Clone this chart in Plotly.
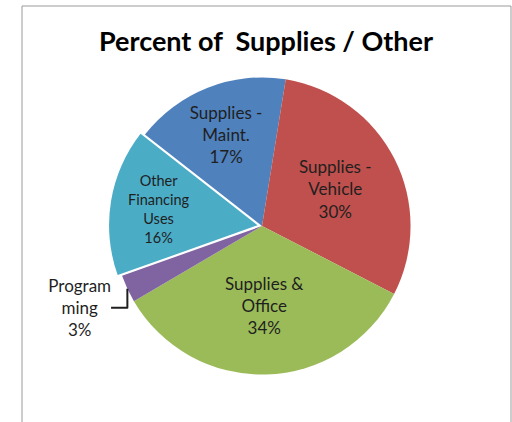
import plotly.graph_objects as go

# Categories and shares for the supplies / other breakdown
categories = ["Supplies -<br>Maint.", "Supplies -<br>Vehicle", "Supplies &<br>Office",
              "Program<br>ming", "Other<br>Financing<br>Uses"]
shares = [17, 30, 34, 3, 16]
colors = ["#4F81BD", "#C0504D", "#9BBB59", "#8064A2", "#4BACC6"]
text_positions = ["inside", "inside", "inside", "outside", "inside"]
pulls = [0, 0, 0, 0, 0.03]

W, H = 512, 422
cx, cy, r = 262, 226, 153  # pie centre and half-size of its domain box, px

fig = go.Figure(go.Pie(
    labels=categories,
    values=shares,
    sort=False,
    direction="clockwise",
    rotation=-52,
    pull=pulls,
    marker=dict(colors=colors, line=dict(width=0)),
    textposition=text_positions,
    texttemplate="%{label}<br>%{percent:.0%}",
    insidetextorientation="horizontal",
    textfont=dict(family="Lato, Carlito, sans-serif", size=17, color="#1f1f1f"),
    showlegend=False,
    domain=dict(x=[(cx - r) / W, (cx + r) / W],
                y=[(H - cy - r) / H, (H - cy + r) / H]),
))

fig.update_layout(
    width=W, height=H,
    margin=dict(l=0, r=0, t=0, b=0),
    paper_bgcolor="white",
    title=dict(text="<b>Percent of\u00a0 Supplies / Other</b>",
               x=266 / W, xanchor="center", y=1 - 42 / H, yanchor="middle",
               font=dict(family="Lato, Carlito, sans-serif", size=27, color="#000000")),
    shapes=[dict(type="rect", xref="paper", yref="paper",
                 x0=22 / W, x1=511 / W, y0=-0.05, y1=1 - 6 / H,
                 line=dict(color="#9a9a9a", width=1), fillcolor="rgba(0,0,0,0)")],
)

fig.write_html("out.html")
